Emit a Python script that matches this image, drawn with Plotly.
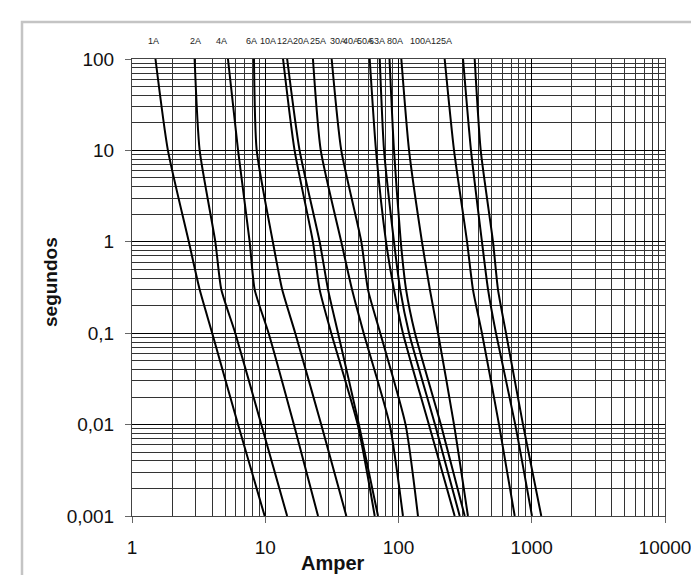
import plotly.graph_objects as go

# ---- data ----
times = [100, 10, 1, 0.3, 0.1, 0.01, 0.001]  # seconds

fuse_labels = ["1A", "2A", "4A", "6A", "10A", "12A", "20A", "25A",
               "30A", "40A", "50A", "63A", "80A", "100A", "125A"]

# current (A) at which each curve crosses the time levels above
i_1A = [1.50, 1.86, 2.67, 3.22, 4.0, 6.25, 9.9]
i_2A = [2.95, 3.22, 4.22, 4.68, 5.96, 9.34, 14.6]
i_4A = [5.25, 6.25, 7.64, 8.33, 10.6, 16.4, 24.9]
i_6A = [8.23, 8.63, 11.4, 13.4, 16.8, 26.3, 40.6]
i_10A = [13.6, 16.6, 22.8, 25.6, 31.3, 49.4, 66.3]
i_12A = [14.6, 18.1, 25.6, 29.6, 35.2, 50.5, 70.2]
i_20A = [22.8, 26.1, 37.2, 44.8, 54.8, 85.9, 108.0]
i_25A = [31.5, 37.2, 52.6, 59.0, 73.0, 113.0, 140.0]
i_30A = [60.8, 67.8, 80.6, 92.5, 108.0, 169.0, 264.0]
i_40A = [72.3, 77.9, 92.5, 103.0, 120.0, 188.0, 288.0]
i_50A = [85.6, 92.5, 104.0, 114.0, 133.0, 208.0, 314.0]
i_63A = [105.0, 120.0, 150.0, 172.0, 198.0, 261.0, 332.0]
i_80A = [222.0, 261.0, 327.0, 362.0, 423.0, 568.0, 745.0]
i_100A = [305.0, 350.0, 423.0, 470.0, 539.0, 752.0, 1004.0]
i_125A = [373.0, 414.0, 512.0, 558.0, 641.0, 860.0, 1179.0]

currents = [i_1A, i_2A, i_4A, i_6A, i_10A, i_12A, i_20A, i_25A,
            i_30A, i_40A, i_50A, i_63A, i_80A, i_100A, i_125A]

y_tickvals = [0.001, 0.01, 0.1, 1, 10, 100]
y_ticktext = ["0,001", "0,01", "0,1", "1", "10", "100"]
x_tickvals = [1, 10, 100, 1000, 10000]
x_ticktext = ["1", "10", "100", "1000", "10000"]

# ---- layout geometry (pixels) ----
W, H = 699, 575
L, R, T, B = 124, 42, 51, 67
PW, PH = W - L - R, H - T - B

def px(x):
    return (x - L) / PW

def py(y):
    return (H - B - y) / PH

# label positions above the plot (pixel x of each label centre)
label_px = [145.5, 187, 213, 243, 260, 277, 293, 310,
            330, 343, 357, 369, 387, 412, 433]

x_minor = [k * 10 ** d for d in range(0, 4) for k in range(2, 10)]
y_minor = [k * 10.0 ** d for d in range(-3, 2) for k in range(2, 10)]

FONT = "Liberation Sans, Arial, sans-serif"

fig = go.Figure()
for lab, cur in zip(fuse_labels, currents):
    fig.add_trace(go.Scatter(x=cur, y=times, mode="lines", name=lab,
                             line=dict(color="black", width=2,
                                       shape="spline", smoothing=0.6),
                             showlegend=False, hoverinfo="skip"))

axis_common = dict(
    type="log", showgrid=True, gridcolor="#000000", gridwidth=1,
    showline=True, mirror=True, linecolor="#444444", linewidth=1,
    ticks="outside", ticklen=6, tickcolor="#666666", tickwidth=1,
    tickfont=dict(family=FONT, size=19, color="#111111"),
)

fig.update_xaxes(range=[0, 4], tickvals=x_tickvals, ticktext=x_ticktext,
                 minor=dict(tickvals=x_minor, showgrid=True,
                            gridcolor="#333333", gridwidth=1, ticks=""),
                 ticklabelstandoff=8, **axis_common)
fig.update_yaxes(range=[-3, 2], tickvals=y_tickvals, ticktext=y_ticktext,
                 minor=dict(tickvals=y_minor, showgrid=True,
                            gridcolor="#333333", gridwidth=1, ticks=""),
                 ticklabelstandoff=7, **axis_common)

annotations = []
for lab, xp in zip(fuse_labels, label_px):
    annotations.append(dict(xref="paper", yref="paper", x=px(xp), y=py(33),
                            text=lab, showarrow=False, xanchor="center",
                            yanchor="middle",
                            font=dict(family=FONT, size=9, color="#222")))
annotations.append(dict(xref="paper", yref="paper", x=px(325), y=py(555),
                        text="<b>Amper</b>", showarrow=False,
                        xanchor="center", yanchor="middle",
                        font=dict(family=FONT, size=20, color="#111")))
annotations.append(dict(xref="paper", yref="paper", x=px(42), y=py(274),
                        text="<b>segundos</b>", showarrow=False, textangle=-90,
                        xanchor="center", yanchor="middle",
                        font=dict(family=FONT, size=19, color="#111")))

shapes = [dict(type="rect", xref="paper", yref="paper",
               x0=px(14), x1=px(692), y0=py(580), y1=py(14),
               line=dict(color="#c4c4c4", width=2.5), layer="below")]

fig.update_layout(width=W, height=H, margin=dict(l=L, r=R, t=T, b=B),
                  paper_bgcolor="white", plot_bgcolor="white",
                  annotations=annotations, shapes=shapes,
                  font=dict(family=FONT))

fig.write_html("out.html")
